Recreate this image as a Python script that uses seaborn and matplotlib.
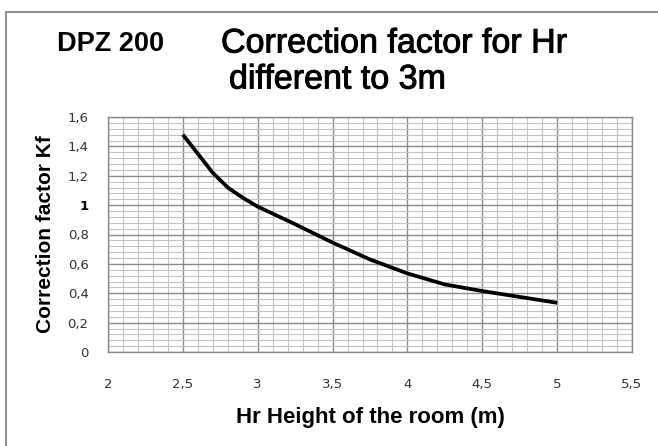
import numpy as np
import pandas as pd
import matplotlib
matplotlib.use("Agg")
import matplotlib.pyplot as plt
import matplotlib.patheffects as pe
from matplotlib.lines import Line2D
from matplotlib.ticker import MultipleLocator
import seaborn as sns

# valores
altura = [2.5, 2.6, 2.7, 2.8, 2.9, 3.0, 3.25, 3.5, 3.75, 4.0, 4.25, 4.5, 4.75, 5.0]
kf = [1.48, 1.35, 1.22, 1.12, 1.05, 0.99, 0.87, 0.745, 0.63, 0.535, 0.46, 0.415, 0.375, 0.335]

x_ticks = [2, 2.5, 3, 3.5, 4, 4.5, 5, 5.5]
x_labels = ["2", "2,5", "3", "3,5", "4", "4,5", "5", "5,5"]
y_ticks = [0, 0.2, 0.4, 0.6, 0.8, 1.0, 1.2, 1.4, 1.6]
y_labels = ["0", "0,2", "0,4", "0,6", "0,8", "1", "1,2", "1,4", "1,6"]

df = pd.DataFrame({"altura": altura, "kf": kf})

sns.set_style("white")
plt.rcParams['font.family'] = ['Liberation Sans', 'DejaVu Sans']
plt.rcParams['text.color'] = 'black'

fig = plt.figure(figsize=(6.58, 4.46), dpi=100)
ax = fig.add_axes([108/658, 1 - 352/446, 524/658, 235/446])

# grilla tipo papel milimetrado
ax.xaxis.set_minor_locator(MultipleLocator(0.1))
ax.yaxis.set_minor_locator(MultipleLocator(0.04))
ax.grid(which='minor', color='#c4c4c4', linewidth=0.8)
ax.grid(which='major', color='#8a8a8a', linewidth=1.0)
ax.set_axisbelow(True)

sns.lineplot(data=df, x='altura', y='kf', color='black', linewidth=2.7, ax=ax)
for l in ax.lines:
    l.set_solid_joinstyle('round')
    l.set_solid_capstyle('butt')

ax.set_xlim(2, 5.5)
ax.set_ylim(0, 1.6)
ax.set_xticks(x_ticks)
ax.set_xticklabels(x_labels, family='DejaVu Sans', fontsize=9.5, color='#333333')
ax.set_yticks(y_ticks)
ax.set_yticklabels(y_labels, family='DejaVu Sans', fontsize=9.5, color='#333333')
for t in ax.get_yticklabels():
    if t.get_text() == "1":
        t.set_fontweight('bold')
        t.set_color('black')
ax.tick_params(which='both', length=0)
ax.tick_params(axis='x', pad=19)
ax.tick_params(axis='y', pad=14)

for s in ax.spines.values():
    s.set_color('#8a8a8a')
    s.set_linewidth(1.0)

ax.set_xlabel('Hr Height of the room (m)', fontsize=16, fontweight='bold', labelpad=11, color='black')
ax.set_ylabel('Correction factor Kf', fontsize=15, fontweight='bold', labelpad=9, color='black')

grueso = [pe.withStroke(linewidth=0.7, foreground='black')]
fig.text(57/658, 1 - 44/446, 'DPZ 200', fontsize=19.5, fontweight='bold', va='center', ha='left')
fig.text(221/658, 1 - 44/446, 'Correction factor for Hr', fontsize=24.5, va='center', ha='left',
         path_effects=grueso)
fig.text(229/658, 1 - 80/446, 'different to 3m', fontsize=24.5, va='center', ha='left',
         path_effects=grueso)

# marco exterior
fig.add_artist(Line2D([6/658, 6/658], [0, 1 - 12/446], color='#909090', linewidth=1.5))
fig.add_artist(Line2D([6/658, 1], [1 - 12/446, 1 - 12/446], color='#909090', linewidth=1.5))

fig.savefig('out.png', dpi=100)
